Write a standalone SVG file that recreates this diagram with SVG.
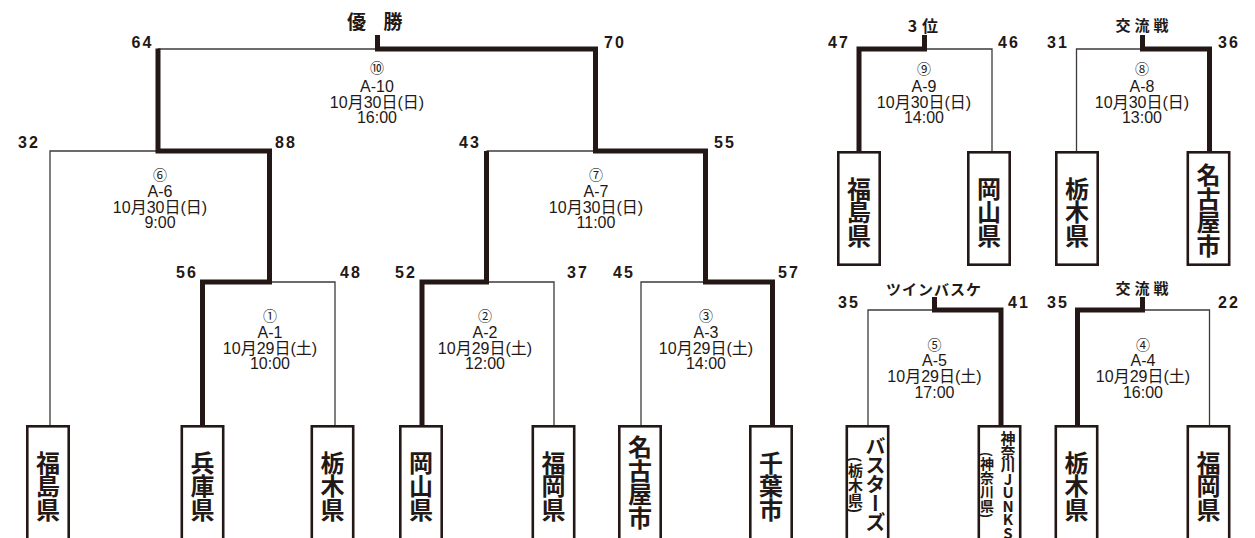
<svg xmlns="http://www.w3.org/2000/svg" width="1255" height="538" viewBox="0 0 1255 538">
<style>
.thin{fill:none;stroke:#3e3a39;stroke-width:1.3}
.thick{fill:none;stroke:#231815;stroke-width:5;stroke-linejoin:miter;stroke-linecap:butt}
.box{fill:#fff;stroke:#231815;stroke-width:2.6}
.team{font-family:"Noto Sans CJK JP",sans-serif;font-weight:bold;font-size:24px;fill:#231815;text-anchor:middle;writing-mode:vertical-rl;letter-spacing:-0.5px}
.score{font-family:"Liberation Sans",Arial,sans-serif;font-weight:bold;font-size:16px;letter-spacing:2px;fill:#231815}
.info{font-family:"Liberation Sans","Noto Sans CJK JP",sans-serif;font-size:16px;fill:#231815;text-anchor:middle}
.circ{font-family:"Noto Sans CJK JP",sans-serif;font-size:14px;fill:#231815;text-anchor:middle}
.title{font-family:"Noto Sans CJK JP",sans-serif;font-weight:bold;fill:#231815;text-anchor:middle}
.vt{font-family:"Noto Sans CJK JP",sans-serif;font-weight:bold;fill:#231815;text-anchor:middle;writing-mode:vertical-rl}
</style>
<rect width="1255" height="538" fill="#fff"/>
<g id="connectors">
<path class="thin" d="M158,49 H377.5"/>
<path class="thin" d="M50,426 V151 H158"/>
<path class="thin" d="M269.5,282 H335 V426"/>
<path class="thin" d="M486.5,151 H595.5"/>
<path class="thin" d="M486.5,282 H554 V426"/>
<path class="thin" d="M641,426 V282 H705.5"/>
<path class="thin" d="M924.5,49 H992 V152"/>
<path class="thin" d="M1142.5,49 H1076.5 V152"/>
<path class="thin" d="M934.5,310 H868 V426"/>
<path class="thin" d="M1142.5,310 H1209.5 V426"/>
<path class="thick" d="M377.5,35 V49 H595.5 V151 H705.5 V282 H772.5 V426"/>
<path class="thick" d="M202.5,426 V282 H269.5 V151 H158 V48.5"/>
<path class="thick" d="M422,426 V282 H486.5 V151"/>
<path class="thick" d="M924.5,35 V49 H859 V152"/>
<path class="thick" d="M1142.5,35 V49 H1209.5 V152"/>
<path class="thick" d="M934.5,297 V310 H1001 V426"/>
<path class="thick" d="M1142.5,297 V310 H1077.5 V426"/>
</g>
<g id="titles">
<text class="title" y="28.7" font-size="19"><tspan x="356.5">優</tspan><tspan x="393">勝</tspan></text>
<text class="title" y="31.5" font-size="16"><tspan x="912.5">3</tspan><tspan x="930">位</tspan></text>
<text class="title" y="31" font-size="15"><tspan x="1123">交</tspan><tspan x="1142">流</tspan><tspan x="1161">戦</tspan></text>
<text class="title" y="293.5" font-size="15"><tspan x="1123">交</tspan><tspan x="1142">流</tspan><tspan x="1161">戦</tspan></text>
<text class="title" x="934" y="294.5" font-size="15" letter-spacing="1">ツインバスケ</text>
</g>
<g id="scores">
<text class="score" x="131.5" y="48">64</text>
<text class="score" x="604" y="48">70</text>
<text class="score" x="18" y="148">32</text>
<text class="score" x="275" y="148">88</text>
<text class="score" x="459" y="148">43</text>
<text class="score" x="714" y="148">55</text>
<text class="score" x="176" y="277.5">56</text>
<text class="score" x="340" y="277.5">48</text>
<text class="score" x="395" y="277.5">52</text>
<text class="score" x="567" y="277.5">37</text>
<text class="score" x="613" y="277.5">45</text>
<text class="score" x="778" y="277.5">57</text>
<text class="score" x="828" y="48">47</text>
<text class="score" x="998" y="48">46</text>
<text class="score" x="1047" y="48">31</text>
<text class="score" x="1218" y="48">36</text>
<text class="score" x="838" y="308">35</text>
<text class="score" x="1008" y="308">41</text>
<text class="score" x="1047" y="308">35</text>
<text class="score" x="1218" y="308">22</text>
</g>
<g id="matches">
<g id="m10"><text class="circ" x="377" y="73">⑩</text><text class="info" x="377" y="92">A-10</text><text class="info" x="377" y="108">10月30日(日)</text><text class="info" x="377" y="122.5">16:00</text></g>
<g id="m6"><text class="circ" x="160" y="180">⑥</text><text class="info" x="160" y="197">A-6</text><text class="info" x="160" y="213">10月30日(日)</text><text class="info" x="160" y="228">9:00</text></g>
<g id="m7"><text class="circ" x="596" y="180">⑦</text><text class="info" x="596" y="197">A-7</text><text class="info" x="596" y="213">10月30日(日)</text><text class="info" x="596" y="228">11:00</text></g>
<g id="m1"><text class="circ" x="270" y="321">①</text><text class="info" x="270" y="337.5">A-1</text><text class="info" x="270" y="354">10月29日(土)</text><text class="info" x="270" y="369">10:00</text></g>
<g id="m2"><text class="circ" x="485" y="321">②</text><text class="info" x="485" y="337.5">A-2</text><text class="info" x="485" y="354">10月29日(土)</text><text class="info" x="485" y="369">12:00</text></g>
<g id="m3"><text class="circ" x="706" y="321">③</text><text class="info" x="706" y="337.5">A-3</text><text class="info" x="706" y="354">10月29日(土)</text><text class="info" x="706" y="369">14:00</text></g>
<g id="m9"><text class="circ" x="924" y="74">⑨</text><text class="info" x="924" y="92">A-9</text><text class="info" x="924" y="107.5">10月30日(日)</text><text class="info" x="924" y="122.5">14:00</text></g>
<g id="m8"><text class="circ" x="1142" y="74">⑧</text><text class="info" x="1142" y="92">A-8</text><text class="info" x="1142" y="107.5">10月30日(日)</text><text class="info" x="1142" y="122.5">13:00</text></g>
<g id="m5"><text class="circ" x="934.5" y="350">⑤</text><text class="info" x="934.5" y="365.5">A-5</text><text class="info" x="934.5" y="382">10月29日(土)</text><text class="info" x="934.5" y="398">17:00</text></g>
<g id="m4"><text class="circ" x="1143" y="350">④</text><text class="info" x="1143" y="365.5">A-4</text><text class="info" x="1143" y="382">10月29日(土)</text><text class="info" x="1143" y="398">16:00</text></g>
</g>
<g id="team-fukushima-1"><rect class="box" x="27.3" y="426.3" width="41.4" height="120"/><text class="team" x="48" y="486">福島県</text></g>
<g id="team-hyogo"><rect class="box" x="181.8" y="426.3" width="41.4" height="120"/><text class="team" x="202.5" y="486">兵庫県</text></g>
<g id="team-tochigi-1"><rect class="box" x="311.8" y="426.3" width="41.4" height="120"/><text class="team" x="332.5" y="486">栃木県</text></g>
<g id="team-okayama-1"><rect class="box" x="400.3" y="426.3" width="41.4" height="120"/><text class="team" x="421" y="486">岡山県</text></g>
<g id="team-fukuoka-1"><rect class="box" x="532.8" y="426.3" width="41.4" height="120"/><text class="team" x="553.5" y="486">福岡県</text></g>
<g id="team-nagoya-1"><rect class="box" x="619.3" y="426.3" width="41.4" height="120"/><text class="team" x="640" y="482">名古屋市</text></g>
<g id="team-chiba"><rect class="box" x="750.3" y="426.3" width="41.4" height="120"/><text class="team" x="771" y="486">千葉市</text></g>
<g id="team-busters"><rect class="box" x="846.8" y="426.3" width="41.4" height="120"/><text class="vt" x="875.5" y="483.5" font-size="20" letter-spacing="-1">バスターズ</text><text class="vt" x="855.5" y="485" font-size="15" font-weight="normal">(栃木県)</text></g>
<g id="team-kanagawa"><rect class="box" x="978.8" y="426.3" width="41.4" height="120"/><text class="vt" x="1008" y="431" font-size="15" letter-spacing="-1.5" style="text-anchor:start;text-orientation:upright">神奈川JUNKS</text><text class="vt" x="987" y="485" font-size="14" font-weight="normal">(神奈川県)</text></g>
<g id="team-tochigi-2"><rect class="box" x="1055.8" y="426.3" width="41.4" height="120"/><text class="team" x="1076.5" y="486">栃木県</text></g>
<g id="team-fukuoka-2"><rect class="box" x="1187.8" y="426.3" width="41.4" height="120"/><text class="team" x="1208.5" y="486">福岡県</text></g>
<g id="team-fukushima-2"><rect class="box" x="838.3" y="152.3" width="41.4" height="112.4"/><text class="team" x="859" y="212">福島県</text></g>
<g id="team-okayama-2"><rect class="box" x="968.3" y="152.3" width="41.4" height="112.4"/><text class="team" x="989" y="212">岡山県</text></g>
<g id="team-tochigi-3"><rect class="box" x="1056.3" y="152.3" width="41.4" height="112.4"/><text class="team" x="1077" y="212">栃木県</text></g>
<g id="team-nagoya-2"><rect class="box" x="1187.8" y="152.3" width="41.4" height="112.4"/><text class="team" x="1208.5" y="210">名古屋市</text></g>
</svg>
